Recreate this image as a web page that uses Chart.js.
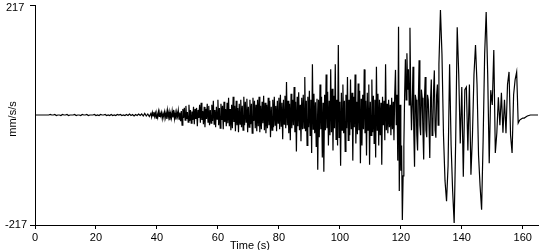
<!DOCTYPE html>
<html>
<head>
<meta charset="utf-8">
<script src="https://cdn.jsdelivr.net/npm/chart.js@4"></script>
<style>
  html, body { margin: 0; padding: 0; background: #fff; }
  canvas { display: block; }
</style>
</head>
<body>
<canvas id="seis" width="550" height="250"></canvas>
<script>
const yLimit = 217;
const xTicks = [0, 20, 40, 60, 80, 100, 120, 140, 160];
const yTicks = [-217, 217];

// 0 - 37.5 s : ruido antes da chegada (uma amostra a cada 0.5 s)
const quietStart = 0, quietStep = 0.5;
const quietVel = [
  0, 0, 0, 0, 0, 0, 0, 0, 0, 0,
  1, 0, 0, 1, -1, 0, 0, -1, 1, 0,
  0, 1, -1, 0, 0, 0, 1, -1, 0, 0,
  -1, 1, 0, 0, 1, -1, 0, 0, 0, 1,
  -1, 0, -1, 1, 0, 0, 1, -1, 0, -1,
  1, -1, 0, -1, 1, 0, 1, -1, 0, -1,
  1, -1, 2, -1, 1, -2, 1, -1, 2, -1,
  2, -2, 3, -2, 2, -3
];

// 38 - 77.75 s : primeiras ondas (0.25 s)
const onsetStart = 38, onsetStep = 0.25;
const onsetVel = [
  3, -4, 5, -2, 6, -3, 4, -6, 2, -5, 7, -3, 4, -2, 5, -7, 3, -4, 6, -5,
  5, -8, 9, -4, 6, -10, 3, -6, 8, -5, 10, -7, 4, -9, 6, -3, 9, -8, 5, -12,
  8, -20, 12, -6, 14, -10, 18, -8, 6, -14, 20, -12, 10, -16, 7, -10, 16, -18, 12, -8,
  14, -22, 10, -6, 20, -15, 24, -10, 8, -18, 16, -24, 12, -8, 22, -14, 18, -20, 10, -16,
  20, -12, 28, -18, 10, -24, 16, -8, 30, -20, 14, -26, 22, -10, 18, -28, 26, -14, 12, -22,
  24, -16, 34, -22, 12, -30, 20, -26, 36, -14, 18, -32, 28, -20, 14, -34, 22, -18, 30, -24,
  18, -30, 36, -20, 26, -14, 32, -34, 16, -24, 30, -18, 22, -36, 34, -12, 28, -26, 20, -32,
  30, -22, 36, -34, 18, -28, 26, -16, 38, -30, 24, -36, 20, -26, 34, -20, 28, -44, 16, -30
];

// 78 - 92.75 s
const buildStart = 78, buildStep = 0.25;
const buildVel = [
  30, -24, 36, -20, 18, -32, 28, -16, 34, -28, 40, -22, 24, -48, 30, -18, 38, -26, 65, -20,
  28, -36, 22, -50, 42, -26, 30, -20, 55, -34, 26, -72, 36, -22, 45, -30, 20, -52, 34, -28,
  40, -26, 75, -32, 28, -60, 36, -24, 48, -40, 30, -75, 100, -28, 42, -36, 25, -62, 32, -108
];

// 93 - 117.75 s
const strongStart = 93, strongStep = 0.25;
const strongVel = [
  30, -44, 60, -28, 36, -84, 24, -112, 40, -30, 80, -26, 46, -60, 28, -40, 90, -34, 52, -70,
  38, -26, 100, -48, 30, -60, 138, -44, 26, -100, 44, -30, 60, -36, 28, -72, 40, -26, 75, -50,
  30, -40, 70, -28, 44, -90, 36, -24, 80, -56, 26, -38, 62, -30, 48, -95, 32, -60, 40, -28,
  90, -36, 28, -80, 44, -30, 60, -98, 26, -40, 70, -34, 38, -56, 30, -84, 95, -30, 42, -60,
  30, -40, 24, -98, 36, -20, 28, -50, 100, -30, 22, -36, 30, -24, 20, -40, 34, -28, 26, -50
];

// 118 - 132.25 s
const peakStart = 118, peakStep = 0.25;
const peakVel = [
  40, 89, -20, 40, -90, 174, -150, 20, -110, -60, -207, -120, -60, 40, 110, 30, 122, 50, 90, 20,
  172, 40, -30, 20, 95, -30, -102, 40, 30, -40, -70, 30, 108, -20, -40, 50, 34, -30, -88, 30,
  75, -30, -44, 40, 30, -20, -85, 30, 70, -40, -30, 50, 88, -30, -45, 40, 60, -20
];

// 132.5 - 165 s : ondas de superficie e fim do registo (0.5 s)
const codaStart = 132.5, codaStep = 0.5;
const codaVel = [
  100, 207, 120, -40, -130, -170, -100, 100, -60, -150,
  -213, -50, 173, 80, -56, 55, -122, 50, 55, -70,
  60, -118, -40, 80, 138, 60, -80, -140, -187, -50,
  120, 203, 80, -95, 49, 20, 128, -75, -35, 35,
  -20, 44, -35, 30, -36, 60, 85, -40, -75, 40,
  70, 85, -16, -10, -8, -6, -6, -4, -2, -1,
  0, 0, 0, 0, 0, 0
];

function toPoints(start, step, vals) {
  return vals.map((v, i) => ({ x: start + i * step, y: v }));
}

const points = [].concat(
  toPoints(quietStart, quietStep, quietVel),
  toPoints(onsetStart, onsetStep, onsetVel),
  toPoints(buildStart, buildStep, buildVel),
  toPoints(strongStart, strongStep, strongVel),
  toPoints(peakStart, peakStep, peakVel),
  toPoints(codaStart, codaStep, codaVel)
);

const FONT = '11px "Liberation Sans", Arial, sans-serif';

// titulos dos eixos e rotulos do eixo y
const labelsPlugin = {
  id: 'labels',
  afterDraw(chart) {
    const ctx = chart.ctx;
    const xs = chart.scales.x, ys = chart.scales.y;
    ctx.save();
    ctx.fillStyle = '#000';
    ctx.font = FONT;
    ctx.textAlign = 'left';
    ctx.textBaseline = 'middle';
    yTicks.forEach(v => {
      let y = ys.getPixelForValue(v);
      y = Math.max(8, Math.min(chart.height - 6, y));
      ctx.fillText(String(v), v < 0 ? 5 : 6, y);
    });
    ctx.textAlign = 'center';
    ctx.textBaseline = 'top';
    ctx.fillText('Time (s)', xs.getPixelForValue(70.5), 240);
    ctx.translate(13, (ys.top + ys.bottom) / 2 + 4);
    ctx.rotate(-Math.PI / 2);
    ctx.textBaseline = 'middle';
    ctx.fillText('mm/s/s', 0, 0);
    ctx.restore();
  }
};

new Chart(document.getElementById('seis').getContext('2d'), {
  type: 'line',
  data: {
    datasets: [{
      data: points,
      borderColor: '#000',
      borderWidth: 1.2,
      pointRadius: 0,
      tension: 0,
      fill: false
    }]
  },
  options: {
    responsive: false,
    animation: false,
    layout: { padding: { top: 5, right: 12, left: 0, bottom: 0 } },
    plugins: { legend: { display: false }, tooltip: { enabled: false } },
    scales: {
      x: {
        type: 'linear',
        min: 0,
        max: 165,
        afterBuildTicks(s) { s.ticks = xTicks.map(v => ({ value: v })); },
        afterFit(s) { s.height = 25; },
        grid: { drawOnChartArea: false, tickLength: 4, color: '#000' },
        border: { color: '#000', width: 1 },
        ticks: { color: '#000', font: { family: '"Liberation Sans", Arial', size: 11 }, maxRotation: 0, padding: 2 }
      },
      y: {
        min: -yLimit,
        max: yLimit,
        afterBuildTicks(s) { s.ticks = yTicks.map(v => ({ value: v })); },
        afterFit(s) { s.width = 35; },
        grid: { drawOnChartArea: false, tickLength: 5, color: '#000' },
        border: { color: '#000', width: 1 },
        ticks: { display: false }
      }
    }
  },
  plugins: [labelsPlugin]
});
</script>
</body>
</html>
